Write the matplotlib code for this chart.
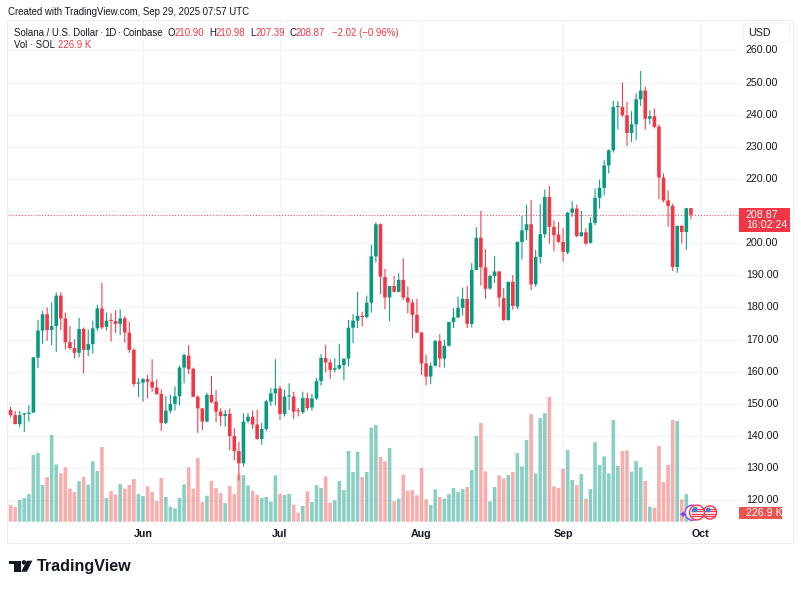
import matplotlib
matplotlib.use("Agg")
import matplotlib.pyplot as plt
from matplotlib.patches import Rectangle, FancyBboxPatch, Ellipse, Polygon
from matplotlib.transforms import IdentityTransform
import numpy as np
import pandas as pd

W, H = 801, 589
FONT = "Liberation Sans"
plt.rcParams["font.family"] = [FONT, "DejaVu Sans"]

dates = pd.date_range("2025-05-02", "2025-09-29", freq="D")

opens = [150.9,148.1,146.5,143.7,146.7,146.9,147.3,164.4,172.8,177.9,
 173.0,174.2,183.7,176.6,169.2,167.4,165.9,173.3,166.8,168.6,
 173.5,179.7,174.0,176.0,175.8,174.9,176.6,172.2,166.8,156.3,
 156.6,157.7,156.9,155.1,153.1,144.1,147.9,150.0,152.4,161.3,
 165.0,160.9,152.2,148.6,144.5,152.8,150.7,147.6,146.2,146.9,
 140.0,135.3,131.5,144.6,146.0,143.6,139.1,142.2,150.7,153.3,
 154.8,146.9,152.3,152.3,147.9,147.4,151.8,148.9,151.7,157.1,
 164.3,162.9,160.6,161.0,162.1,164.1,173.7,175.9,177.4,177.0,
 181.5,195.9,205.9,189.5,183.1,186.7,184.9,188.6,183.1,181.5,
 177.7,172.2,162.6,158.5,161.9,169.6,164.1,168.1,175.4,176.9,
 179.9,182.7,174.9,191.7,201.7,192.5,185.9,189.8,191.2,182.9,
 176.1,188.0,180.3,200.4,204.0,205.9,187.2,195.7,202.8,214.4,
 205.1,202.7,200.4,197.1,209.5,210.8,202.2,203.4,200.1,206.3,
 214.1,217.2,224.2,228.9,242.4,242.4,239.8,234.3,237.0,244.8,
 247.5,238.7,239.5,236.3,220.4,213.3,211.6,192.6,205.4,203.5,
 210.90]
highs = [150.9,149.1,147.8,147.8,147.1,149.6,164.5,176.1,178.9,180.0,
 181.5,184.7,184.7,178.4,174.2,170.1,176.8,173.8,173.2,175.9,
 180.9,187.7,178.4,178.2,179.2,179.4,177.3,175.6,167.3,158.0,
 158.0,159.0,163.9,157.6,154.5,152.4,152.8,155.4,161.9,165.7,
 168.3,161.3,152.7,148.8,153.5,158.7,154.3,148.6,148.1,148.6,
 142.4,138.2,147.1,147.2,148.0,148.2,144.1,151.3,154.9,163.9,
 155.6,154.4,156.4,153.8,148.7,153.8,153.5,153.1,158.0,165.5,
 168.4,163.9,164.2,168.7,164.1,176.1,177.9,184.8,178.7,183.7,
 199.5,206.5,206.2,192.0,186.7,189.8,190.7,195.3,186.5,182.6,
 182.7,172.4,165.3,162.9,169.9,171.7,169.9,175.5,179.7,183.4,
 186.2,186.7,193.8,205.0,210.1,198.1,190.2,195.9,191.4,186.0,
 188.0,190.1,200.5,208.5,212.0,213.4,198.0,212.1,216.7,217.8,
 207.2,206.6,204.6,209.7,213.1,212.0,210.1,204.6,208.0,217.0,
 219.8,225.8,229.2,244.3,244.3,250.0,244.0,241.1,246.6,253.6,
 248.7,241.4,241.9,237.0,221.7,216.5,212.3,205.4,205.6,210.9,
 210.98]
lows = [148.1,145.8,143.7,142.7,141.3,144.5,147.3,161.1,168.6,169.6,
 168.3,166.2,173.0,167.0,166.8,164.2,164.5,159.5,164.9,165.7,
 172.7,173.2,172.8,169.4,172.0,171.4,169.1,165.9,155.4,152.2,
 150.7,151.7,153.8,152.8,141.6,143.7,147.1,147.9,149.6,156.4,
 159.3,152.2,141.0,141.9,144.3,150.2,144.3,143.1,142.9,135.6,
 132.5,126.2,130.5,144.0,142.2,138.9,137.3,141.5,149.4,149.5,
 145.0,146.1,148.1,145.3,146.1,146.9,147.9,147.9,151.3,155.7,
 159.8,157.8,159.8,160.6,157.3,161.6,168.9,173.6,174.1,176.7,
 178.4,194.0,184.1,179.5,175.8,184.7,184.7,182.4,178.2,170.4,
 172.0,159.0,155.8,156.2,161.6,161.4,161.3,167.9,173.6,176.7,
 177.5,173.6,173.8,191.5,186.8,182.7,185.5,187.6,180.1,175.8,
 175.9,179.3,179.5,195.0,200.9,185.4,186.4,193.7,201.7,199.9,
 197.5,200.1,194.2,196.6,208.2,201.8,202.0,199.4,199.9,205.6,
 210.8,214.9,221.7,228.2,235.4,239.3,230.2,231.5,232.1,242.7,
 235.4,237.0,235.7,213.7,212.7,205.1,191.4,190.8,199.9,198.0,
 207.39]
closes = [148.1,146.5,143.7,146.5,147.1,147.3,164.5,172.8,177.9,173.0,
 174.2,183.7,176.6,169.2,167.4,165.9,173.3,166.8,168.6,173.5,
 179.7,173.8,175.9,175.8,174.9,176.6,172.2,166.8,156.2,156.6,
 157.7,156.9,155.1,153.1,144.1,147.9,150.0,152.4,161.3,165.2,
 160.9,152.2,148.6,144.5,152.8,150.5,147.6,146.2,146.9,140.0,
 135.3,131.5,144.5,146.0,143.6,139.1,142.2,150.8,153.3,154.8,
 146.9,152.3,152.5,147.6,147.7,151.8,148.7,151.7,157.1,164.3,
 162.9,160.6,161.1,162.1,164.1,173.7,175.9,177.4,177.0,181.5,
 195.9,205.9,189.6,183.1,186.7,184.9,188.6,183.1,181.6,177.7,
 172.2,162.6,158.5,161.9,169.6,164.1,168.1,175.5,176.9,179.9,
 182.7,174.9,191.7,201.7,192.5,185.8,189.8,191.2,183.1,176.1,
 188.0,180.5,200.4,204.0,205.9,187.2,195.7,202.8,214.4,205.1,
 202.5,200.4,197.3,209.5,210.8,202.2,203.4,199.9,206.3,214.1,
 217.2,224.2,228.9,242.4,242.6,239.8,234.3,237.0,244.8,247.5,
 238.7,239.5,236.2,220.4,213.3,211.6,192.6,205.4,203.5,210.9,
 208.87]
volumes = [756,420,370,546,596,697,1688,1730,924,1126,
 2184,1445,1218,1369,832,748,1025,1126,932,1520,
 1277,1882,596,773,689,949,832,924,1075,697,
 647,890,748,521,1100,622,378,336,596,941,
 1369,832,1604,496,655,1025,848,722,470,899,
 697,1193,1176,916,781,672,596,622,504,1168,
 706,672,697,428,227,395,764,496,924,848,
 1142,479,538,1025,798,1781,1252,1764,1126,1252,
 2369,2436,1630,1520,1856,521,580,1184,781,798,
 664,1352,563,420,815,622,580,697,848,748,
 823,874,1302,2159,2486,1268,512,874,1168,1092,
 1176,1252,1730,1394,2058,2713,1218,2612,2738,3142,
 890,848,1336,1806,1050,924,1201,580,823,1999,
 1428,1646,1218,2562,1403,1781,1798,1260,1529,1369,
 1025,378,353,1907,1000,1428,2562,2537,563,697,
 226.9]
price_ticks = [120,130,140,150,160,170,180,190,200,210,220,230,240,250,260]
hidden_price_labels = [210]   # covered by the last-price tag in the reference
month_ticks = ["2025-06-01","2025-07-01","2025-08-01","2025-09-01","2025-10-01"]
month_labels = ["Jun","Jul","Aug","Sep","Oct"]
last_price = 208.87

GREEN, RED = "#089981", "#F23645"
VOL_GREEN, VOL_RED = "#089981", "#EF5350"
TXT = "#131722"
GRID = "#F0F3FA"

fig = plt.figure(figsize=(W/100, H/100), dpi=100, facecolor="white")
FT = fig.transFigure

def px(x, y):
    return x/W, 1 - y/H

def ftext(x, y, s, **kw):
    kw.setdefault("va", "center"); kw.setdefault("ha", "left")
    kw.setdefault("color", TXT); kw.setdefault("fontsize", 7.7)
    return fig.text(*px(x, y), s, **kw)

L, R, T, B = 7.3, 740.0, 20.0, 521.7
rect = [L/W, 1-B/H, (R-L)/W, (B-T)/H]
ax_v = fig.add_axes(rect)
ax = fig.add_axes(rect, sharex=ax_v)
ax.patch.set_alpha(0)

x0 = pd.Timestamp("2025-06-01")
xs = np.array([(d - x0).days for d in dates], dtype=float)
assert len(xs) == len(opens) == len(highs) == len(lows) == len(closes) == len(volumes)
o, h, l, c, v = map(np.array, (opens, highs, lows, closes, volumes))
up = c >= o
cols = np.where(up, GREEN, RED)
vcols = np.where(up, VOL_GREEN, VOL_RED)

DAY = 4.566
ax.set_xlim((L-143)/DAY, (R-143)/DAY)
PX_PER_USD = 3.214
ax.set_ylim(120 - (B-500.33)/PX_PER_USD, 120 + (500.33-T)/PX_PER_USD)
ax_v.set_ylim(0, (B-T)*25.2)

month_x = [(pd.Timestamp(m) - x0).days for m in month_ticks]
for a in (ax, ax_v):
    for s in a.spines.values():
        s.set_visible(False)
    a.tick_params(left=False, bottom=False, labelleft=False, labelbottom=False)
    a.set_xticks(month_x)
ax_v.set_yticks([])
ax.set_yticks(price_ticks)
ax_v.grid(axis="x", color=GRID, lw=0.8, zorder=0)
ax_v.set_axisbelow(True)
ax.grid(False)
ymin, ymax = ax.get_ylim()
for p in price_ticks:
    f = (p - ymin) / (ymax - ymin)
    ax_v.plot([0, 1], [f, f], transform=ax_v.transAxes, color=GRID, lw=0.8, zorder=0.5)

BW = 3.6 / DAY
vb = ax_v.bar(xs, v, width=BW, color=vcols, alpha=0.47, lw=0, zorder=2)
for r_ in vb:
    r_.set_snap(False)
wk = ax.vlines(xs, l, h, colors=cols, lw=0.75, zorder=3)
wk.set_snap(False)
cb = ax.bar(xs, np.maximum(np.abs(c-o), 0.35), bottom=np.minimum(o, c), width=BW,
            color=cols, lw=0, zorder=4)
for r_ in cb:
    r_.set_snap(False)
ax.plot(ax.get_xlim(), [last_price]*2, color=RED, lw=0.8, ls=(0, (1, 1.6)), alpha=0.85, zorder=2.5)

fig.add_artist(Rectangle(px(L, 543), (793-L)/W, (543-T)/H, transform=FT,
                         fill=False, ec="#EDEFF4", lw=0.8))

HS = 6.9
ftext(8, 12, "Created with TradingView.com, Sep 29, 2025 07:57 UTC", fontsize=HS)
ftext(14, 33, "Solana / U.S. Dollar", fontsize=HS)
ftext(100, 33, "·", fontsize=HS)
ftext(104, 33, "1D", fontsize=HS)
ftext(117.5, 33, "·", fontsize=HS)
ftext(122.5, 33, "Coinbase", fontsize=HS)
for xa, xb, ch, val in [(167.5,175,"O","210.90"),(209,216,"H","210.98"),(250,256,"L","207.39"),(290,296,"C","208.87")]:
    ftext(xa, 33, ch, fontsize=HS)
    ftext(xb, 33, val, fontsize=HS, color=RED)
ftext(332, 33, "−2.02 (−0.96%)", fontsize=HS, color=RED)
ftext(14, 45.5, "Vol · SOL", fontsize=HS)
ftext(58, 45.5, "226.9 K", fontsize=HS, color=RED)

for p in price_ticks:
    if p in hidden_price_labels:
        continue
    y = 500.33 - (p-120)*PX_PER_USD
    ftext(746, y, f"{p:.2f}", fontsize=7.7)
fig.add_artist(FancyBboxPatch((743.5, H-42.5), 46, 19.5, boxstyle="round,pad=0,rounding_size=3",
                              transform=IdentityTransform(), fc="white", ec="#F0F3FA", lw=0.8))
ftext(748, 33, "USD", fontsize=7.7)

fig.add_artist(Rectangle(px(739.3, 231.7), 50.7/W, 23.4/H, transform=FT, fc=RED, ec="none", zorder=5))
ftext(746, 214.7, "208.87", color="white", fontsize=7.7, zorder=6)
ftext(746, 225.5, "16:02:24", color="white", fontsize=7.7, zorder=6)
fig.add_artist(Rectangle(px(739.3, 519), 43/W, 12.4/H, transform=FT, fc="#EF5350", ec="none", zorder=5))
ftext(746, 513, "226.9 K", color="white", fontsize=7.7, zorder=6)

for mx, lab in zip(month_x, month_labels):
    ftext(143 + mx*DAY, 534, lab, ha="center", fontsize=7.7, fontweight="bold")

def icon(cx, cy, r, edge):
    fig.add_artist(Ellipse(px(cx, cy), 2*r/W, 2*r/H, transform=FT, fc="white", ec=edge, lw=1.0, zorder=7))
    inner = r - 1.8
    for dy in [-3.2, -1.1, 1.1, 3.2]:
        hw = np.sqrt(max(inner**2 - dy**2, 0))
        fig.add_artist(plt.Line2D([(cx-hw)/W, (cx+hw)/W], [1-(cy+dy)/H]*2, transform=FT, color=RED, lw=0.9, zorder=8))
    fig.add_artist(Polygon([px(cx-inner, cy-0.3), px(cx-inner+1, cy-3.5), px(cx-2.8, cy-inner), px(cx+0.3, cy-inner), px(cx+0.3, cy-0.3)],
                           transform=FT, fc="#3F7FE0", ec="none", zorder=9))
icon(710, 512.5, 6.6, RED)
fig.add_artist(Ellipse(px(692.5, 512.7), 15/W, 15/H, transform=FT, fc="white", ec="#8E44EC", lw=1.0, zorder=6.5))
icon(697, 512.5, 7.4, RED)
ftext(683, 515.5, "✦", ha="center", color="#7B3FF2", fontsize=7, family="DejaVu Sans", zorder=10)

K = "#131722"
fig.add_artist(Polygon([px(9.3,560.7), px(20.7,560.7), px(20.7,571.7), px(14.3,571.7), px(14.3,564.2), px(9.3,564.2)], transform=FT, fc=K, ec="none"))
fig.add_artist(Ellipse(px(24,562.4), 4.6/W, 4.6/H, transform=FT, fc=K, ec="none"))
fig.add_artist(Polygon([px(27,560.7), px(32.5,560.7), px(26.8,571.7), px(21,571.7)], transform=FT, fc=K, ec="none"))
ftext(37, 566, "TradingView", fontsize=11.6, fontweight="bold", color=K)

fig.savefig("out.png", dpi=100, facecolor="white")
